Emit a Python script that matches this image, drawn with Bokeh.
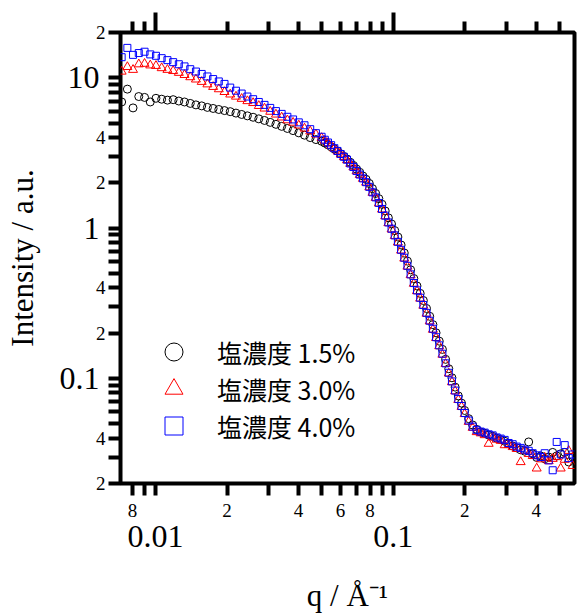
from bokeh.plotting import figure
from bokeh.models import LogAxis, FixedTicker, Legend, LegendItem
from bokeh.embed import file_html
from bokeh.resources import INLINE

# ---------------- data ----------------
q = [0.00720, 0.00761, 0.00804, 0.00850, 0.00899, 0.00950, 0.01004, 0.01061, 0.01122, 0.01186,
     0.01253, 0.01324, 0.01400, 0.01479, 0.01564, 0.01653, 0.01747, 0.01846, 0.01951, 0.02062,
     0.02180, 0.02304, 0.02435, 0.02574, 0.02720, 0.02875, 0.03039, 0.03212, 0.03395, 0.03588,
     0.03792, 0.04008, 0.04236, 0.04477, 0.04732, 0.05000,
     0.05157, 0.05318, 0.05484, 0.05656, 0.05833, 0.06015, 0.06204, 0.06398, 0.06598, 0.06804,
     0.07017, 0.07237, 0.07463, 0.07697, 0.07938, 0.08186, 0.08442, 0.08706, 0.08979, 0.09260,
     0.09549, 0.09848, 0.10156, 0.10474, 0.10802, 0.11140, 0.11489, 0.11848, 0.12219, 0.12601,
     0.12996, 0.13402, 0.13822, 0.14254, 0.14700, 0.15160, 0.15634, 0.16124, 0.16628, 0.17148,
     0.17685, 0.18238, 0.18809, 0.19398, 0.20005,
     0.20791, 0.21613, 0.22468, 0.23357, 0.24281, 0.25241, 0.26239, 0.27277, 0.28357, 0.29478,
     0.30644, 0.31856, 0.33116, 0.34426, 0.35788, 0.37204, 0.38675, 0.40205, 0.41795, 0.43449,
     0.45168, 0.46954, 0.48811, 0.50742, 0.52750, 0.54836, 0.57005]

I_15 = [6.9, 8.4, 6.3, 7.5, 7.4, 6.9, 7.3, 7.2, 7.1, 7.15,
        7.0, 6.9, 6.75, 6.6, 6.5, 6.35, 6.25, 6.15, 6.05, 5.95,
        5.82, 5.7, 5.58, 5.46, 5.33, 5.2, 5.05, 4.9, 4.75, 4.6,
        4.45, 4.3, 4.15, 4.0, 3.88, 3.78,
        3.68, 3.58, 3.47, 3.36, 3.25, 3.12, 3.00, 2.88, 2.74, 2.61,
        2.47, 2.35, 2.22, 2.11, 1.98, 1.83, 1.70, 1.57, 1.44, 1.30,
        1.17, 1.065, 0.963, 0.872, 0.772, 0.683, 0.603, 0.528, 0.462, 0.412,
        0.368, 0.330, 0.292, 0.259, 0.228, 0.201, 0.177, 0.156, 0.134, 0.116,
        0.101, 0.0875, 0.0765, 0.0685, 0.0612,
        0.0540, 0.0490, 0.0458, 0.0440, 0.0432, 0.0420, 0.0412, 0.0400, 0.0392, 0.0382,
        0.0368, 0.0355, 0.0345, 0.0335, 0.0328, 0.0378, 0.0315, 0.0298, 0.0305, 0.0292,
        0.0300, 0.0322, 0.0305, 0.0315, 0.0322, 0.0278, 0.0300]

I_30 = [11.0, 11.8, 11.3, 12.3, 12.4, 12.1, 12.0, 11.6, 11.3, 11.1,
        10.8, 10.45, 10.1, 9.75, 9.4, 9.05, 8.7, 8.4, 8.05, 7.75,
        7.5, 7.25, 7.0, 6.8, 6.5, 6.25, 5.95, 5.7, 5.45, 5.22,
        5.03, 4.82, 4.6, 4.4, 4.2, 3.98,
        3.82, 3.68, 3.53, 3.38, 3.24, 3.09, 2.97, 2.83, 2.68, 2.54,
        2.39, 2.26, 2.13, 2.01, 1.87, 1.72, 1.59, 1.46, 1.33, 1.20,
        1.08, 0.98, 0.886, 0.803, 0.710, 0.628, 0.555, 0.487, 0.427, 0.381,
        0.340, 0.305, 0.270, 0.240, 0.211, 0.186, 0.164, 0.144, 0.125, 0.108,
        0.0945, 0.0822, 0.0720, 0.0648, 0.0580,
        0.0515, 0.0470, 0.0440, 0.0432, 0.0420, 0.0368, 0.0405, 0.0392, 0.0385, 0.0360,
        0.0362, 0.0350, 0.0340, 0.0278, 0.0330, 0.0315, 0.0305, 0.0252, 0.0290, 0.0298,
        0.0282, 0.0292, 0.0300, 0.0252, 0.0288, 0.0330, 0.0262]

I_40 = [13.7, 15.8, 14.2, 14.6, 14.9, 14.3, 14.0, 13.5, 13.1, 12.7,
        12.3, 11.9, 11.4, 11.0, 10.6, 10.2, 9.8, 9.45, 9.1, 8.6,
        8.2, 7.85, 7.5, 7.2, 6.9, 6.6, 6.3, 6.0, 5.75, 5.5,
        5.28, 5.05, 4.83, 4.55, 4.28, 4.05,
        3.87, 3.71, 3.56, 3.40, 3.26, 3.11, 2.98, 2.85, 2.69, 2.55,
        2.40, 2.27, 2.14, 2.02, 1.88, 1.73, 1.60, 1.47, 1.34, 1.21,
        1.09, 0.99, 0.894, 0.810, 0.717, 0.635, 0.561, 0.492, 0.431, 0.385,
        0.344, 0.308, 0.273, 0.242, 0.214, 0.188, 0.166, 0.146, 0.126, 0.109,
        0.0955, 0.0830, 0.0729, 0.0655, 0.0589,
        0.0525, 0.0478, 0.0455, 0.0443, 0.0436, 0.0425, 0.0418, 0.0405, 0.0398, 0.0390,
        0.0372, 0.0365, 0.0352, 0.0345, 0.0336, 0.0330, 0.0318, 0.0308, 0.0300, 0.0318,
        0.0285, 0.0245, 0.0378, 0.0312, 0.0360, 0.0295, 0.0312]

series_labels = ["塩濃度 1.5%", "塩濃度 3.0%", "塩濃度 4.0%"]

# ticks and tick labels
x_small_ticks = [0.008, 0.02, 0.04, 0.06, 0.08, 0.2, 0.4]
x_small_labels = ["8", "2", "4", "6", "8", "2", "4"]
x_big_ticks = [0.01, 0.1]
x_big_labels = ["0.01", "0.1"]
x_minor = [0.007, 0.009, 0.03, 0.05, 0.07, 0.09, 0.3, 0.5]

y_small_ticks = [0.02, 0.04, 0.2, 0.4, 2, 4, 20]
y_small_labels = ["2", "4", "2", "4", "2", "4", "2"]
y_big_ticks = [0.1, 1, 10]
y_big_labels = ["0.1", "1", "10"]
y_minor = [0.03, 0.05, 0.06, 0.07, 0.08, 0.09, 0.3, 0.5, 0.6, 0.7, 0.8, 0.9,
           3, 5, 6, 7, 8, 9]

x_start, x_end = 0.00712, 0.58
y_start, y_end = 0.02, 20

SERIF = "Liberation Serif"

p = figure(width=587, height=615, x_axis_type="log", y_axis_type="log",
           x_range=(x_start, x_end), y_range=(y_start, y_end),
           output_backend="svg", toolbar_location=None,
           min_border_left=120, min_border_right=13,
           min_border_top=32, min_border_bottom=130)
p.grid.visible = False
p.outline_line_color = "black"
p.outline_line_width = 4
p.outline_line_alpha = 1.0
p.background_fill_color = "white"
p.border_fill_color = "white"


def style_ticks(ax, maj_out=0, maj_in=0, min_out=0, min_in=0):
    ax.major_tick_out = maj_out
    ax.major_tick_in = maj_in
    ax.minor_tick_out = min_out
    ax.minor_tick_in = min_in
    ax.major_tick_line_width = 4
    ax.minor_tick_line_width = 4
    ax.major_tick_line_color = "black"
    ax.minor_tick_line_color = "black"
    ax.axis_line_color = None


def hide_labels(ax, ticks):
    ax.major_label_overrides = {t: "" for t in ticks}
    ax.major_label_text_font_size = "0px"
    ax.major_label_standoff = 0


# ---- bottom: small labels (inner axis)
bx = p.xaxis[0]
bx.ticker = FixedTicker(ticks=x_small_ticks, minor_ticks=x_minor + x_big_ticks)
bx.major_label_overrides = dict(zip(x_small_ticks, x_small_labels))
style_ticks(bx, maj_out=12, min_out=12)
bx.major_label_text_font = SERIF
bx.major_label_text_font_size = "19px"
bx.major_label_text_color = "black"
bx.major_label_standoff = 8

# ---- bottom: decade labels + axis title (outer axis)
bx2 = LogAxis(ticker=FixedTicker(ticks=x_big_ticks, minor_ticks=[]))
bx2.major_label_overrides = dict(zip(x_big_ticks, x_big_labels))
style_ticks(bx2)
bx2.major_tick_line_color = None
bx2.major_label_text_font = SERIF
bx2.major_label_text_font_size = "32px"
bx2.major_label_text_color = "black"
bx2.major_label_standoff = 6
bx2.axis_label = "q / Å⁻¹"
bx2.axis_label_text_font = SERIF
bx2.axis_label_text_font_size = "31px"
bx2.axis_label_text_font_style = "normal"
bx2.axis_label_text_color = "black"
bx2.axis_label_standoff = 28
p.add_layout(bx2, "below")

# ---- top ticks
tx = LogAxis(ticker=FixedTicker(ticks=x_big_ticks, minor_ticks=x_minor + x_small_ticks))
style_ticks(tx, maj_out=20, min_out=11)
hide_labels(tx, x_big_ticks)
p.add_layout(tx, "above")

# ---- long decade ticks below the bottom edge
tx2 = LogAxis(ticker=FixedTicker(ticks=x_big_ticks, minor_ticks=[]), fixed_location=y_start)
style_ticks(tx2, maj_in=22)
hide_labels(tx2, x_big_ticks)
p.add_layout(tx2, "above")

# ---- left: small labels (inner axis)
ly = p.yaxis[0]
ly.ticker = FixedTicker(ticks=y_small_ticks, minor_ticks=y_minor + y_big_ticks)
ly.major_label_overrides = dict(zip(y_small_ticks, y_small_labels))
style_ticks(ly, maj_out=12, min_out=12)
ly.major_label_text_font = SERIF
ly.major_label_text_font_size = "19px"
ly.major_label_text_color = "black"
ly.major_label_standoff = 3

# ---- left: decade labels + axis title (outer axis)
ly2 = LogAxis(ticker=FixedTicker(ticks=y_big_ticks, minor_ticks=[]))
ly2.major_label_overrides = dict(zip(y_big_ticks, y_big_labels))
style_ticks(ly2)
ly2.major_tick_line_color = None
ly2.major_label_text_font = SERIF
ly2.major_label_text_font_size = "32px"
ly2.major_label_text_color = "black"
ly2.major_label_standoff = -7
ly2.axis_label = "Intensity / a.u."
ly2.axis_label_text_font = SERIF
ly2.axis_label_text_font_size = "31px"
ly2.axis_label_text_font_style = "normal"
ly2.axis_label_text_color = "black"
ly2.axis_label_standoff = 17
p.add_layout(ly2, "left")

# ---- right ticks (drawn from the right edge, outward)
ry = LogAxis(ticker=FixedTicker(ticks=y_big_ticks, minor_ticks=y_minor + y_small_ticks),
             fixed_location=x_end)
style_ticks(ry, maj_in=21, min_in=12)
hide_labels(ry, y_big_ticks)
p.add_layout(ry, "left")

# ---- long decade ticks on the left edge
ly3 = LogAxis(ticker=FixedTicker(ticks=y_big_ticks, minor_ticks=[]), fixed_location=x_start)
style_ticks(ly3, maj_in=21)
hide_labels(ly3, y_big_ticks)
p.add_layout(ly3, "right")

# ---------------- data marks ----------------
r15 = p.scatter(q, I_15, marker="circle", size=8, line_color="black",
                fill_color=None, line_width=1)
r30 = p.scatter(q, I_30, marker="triangle", size=9, line_color="#ff0000",
                fill_color=None, line_width=1)
r40 = p.scatter(q, I_40, marker="square", size=7, line_color="#0000ff",
                fill_color=None, line_width=1)

# legend: one entry per box so the rows can be placed closely
legend_rows = [(series_labels[0], r15, 109), (series_labels[1], r30, 72),
               (series_labels[2], r40, 35)]
for lab, rend, ypos in legend_rows:
    lg = Legend(items=[LegendItem(label=lab, renderers=[rend])],
                location=(31, ypos), orientation="vertical",
                glyph_width=45, glyph_height=45, spacing=0,
                padding=0, margin=0, label_standoff=21,
                label_text_font="Noto Sans CJK JP", label_text_font_size="25px",
                label_text_color="black",
                border_line_color=None, background_fill_alpha=0)
    p.add_layout(lg)

open("out.html", "w").write(file_html(p, INLINE))
